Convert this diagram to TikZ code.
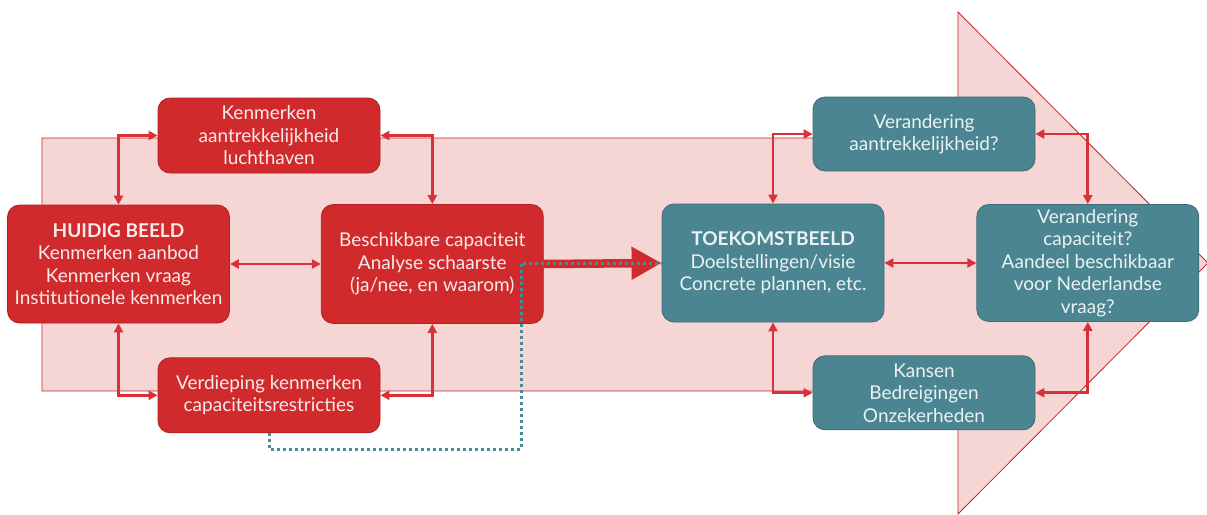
\documentclass[tikz,border=0pt]{standalone}
\usepackage{fontspec}
\setmainfont{Lato}
\usetikzlibrary{positioning,arrows.meta}
\definecolor{boxred}{RGB}{208,42,44}
\definecolor{boxredline}{RGB}{176,32,36}
\definecolor{boxteal}{RGB}{75,133,145}
\definecolor{boxtealline}{RGB}{60,108,117}
\definecolor{arrowfill}{RGB}{246,213,213}
\definecolor{arrowline}{RGB}{192,40,46}
\definecolor{linkred}{RGB}{216,50,54}
\definecolor{dotteal}{RGB}{72,138,150}
\definecolor{txtred}{RGB}{248,234,234}
\definecolor{txtteal}{RGB}{234,242,243}

\begin{document}
\begin{tikzpicture}[x=1pt,y=-1pt,every node/.style={font=\fontsize{19}{22.5}\selectfont,align=center,inner sep=2pt},
	redbox/.style={draw=boxredline,fill=boxred,text=txtred,rounded corners=12pt,line width=0.8pt,minimum width=222pt},
	tealbox/.style={draw=boxtealline,fill=boxteal,text=txtteal,rounded corners=12pt,line width=0.8pt,minimum width=222pt},
	link/.style={draw=linkred,line width=2.8pt,{Triangle[length=9pt,width=9pt]}-{Triangle[length=9pt,width=9pt]}},
	bigarrow/.style={draw=boxred,line width=8.5pt,-{Triangle[length=30pt,width=31pt]}},
	dotline/.style={draw=dotteal,line width=3pt,dash pattern=on 3pt off 3pt}]
	\useasboundingbox (0,0) rectangle (1207,514);
	\draw[arrowline,fill=arrowfill,line width=0.8pt] (42,138) -- (958,138) -- (958,12) -- (1208,263) -- (958,514) -- (958,391) -- (42,391) -- cycle;
	\node[redbox,minimum height=118pt] (huidig) at (118.5,264) {\textbf{HUIDIG BEELD}\\Kenmerken aanbod\\Kenmerken vraag\\Institutionele kenmerken};
	\node[redbox,minimum height=119pt] (besch) [right=91pt of huidig] {Beschikbare capaciteit\\Analyse schaarste\\(ja/nee, en waarom)};
	\node[redbox,minimum height=75pt] (kenm) at (269,135.5) {Kenmerken\\aantrekkelijkheid\\luchthaven};
	\node[redbox,minimum height=75pt] (verd) [below=184pt of kenm] {Verdieping kenmerken\\capaciteitsrestricties};
	\node[tealbox,minimum height=118pt] (toek) at (773,263) {\textbf{TOEKOMSTBEELD}\\Doelstellingen/visie\\Concrete plannen, etc.};
	\node[tealbox,minimum height=117pt] (cap) [right=92pt of toek] {Verandering\\capaciteit?\\Aandeel beschikbaar\\voor Nederlandse\\vraag?};
	\node[tealbox,minimum height=74pt] (veran) at (924,134) {Verandering\\aantrekkelijkheid?};
	\node[tealbox,minimum height=74pt] (kansen) [below=184pt of veran] {Kansen\\Bedreigingen\\Onzekerheden};
	\draw[link] (kenm.west) -| (huidig.north);
	\draw[link] (kenm.east) -| (besch.north);
	\draw[link] (huidig.south) |- (verd.west);
	\draw[link] (besch.south) |- (verd.east);
	\draw[link] (huidig.east) -- (huidig.east -| besch.west);
	\draw[link] (veran.west) -| (toek.north);
	\draw[link] (veran.east) -| (cap.north);
	\draw[link] (toek.south) |- (kansen.west);
	\draw[link] (cap.south) |- (kansen.east);
	\draw[link] (toek.east) -- (toek.east -| cap.west);
	\draw[bigarrow] (besch.east) -- (toek.west);
	\coordinate (dotcorner) at (521,449);
	\draw[dotline] (verd.south) |- (dotcorner) |- (toek.west);
\end{tikzpicture}
\end{document}
